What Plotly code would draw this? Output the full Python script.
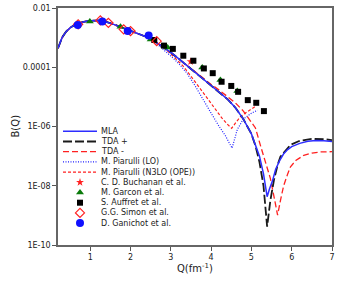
import plotly.graph_objects as go

# ---------------- data ----------------
q_mla = [0.2, 0.3, 0.4, 0.5, 0.6, 0.7, 0.8, 0.9, 1.0, 1.2, 1.4, 1.6, 1.8, 2.0, 2.2, 2.4, 2.6, 2.8,
         3.0, 3.2, 3.4, 3.6, 3.8, 4.0, 4.2, 4.4, 4.6, 4.8, 5.0, 5.1, 5.2, 5.3, 5.39, 5.45, 5.52,
         5.6, 5.7, 5.8, 5.9, 6.0, 6.2, 6.4, 6.6, 6.8, 7.0]
b_mla = [4.37e-4, 1.0e-3, 1.585e-3, 2.14e-3, 2.63e-3, 3.02e-3, 3.31e-3, 3.55e-3, 3.72e-3, 3.80e-3,
         3.39e-3, 2.75e-3, 2.19e-3, 1.66e-3, 1.32e-3, 1.05e-3, 7.41e-4, 5.01e-4, 3.16e-4, 1.91e-4,
         1.15e-4, 6.92e-5, 4.17e-5, 2.45e-5, 1.45e-5, 8.51e-6, 4.37e-6, 1.78e-6, 5.62e-7, 2.51e-7,
         1.0e-7, 2.51e-8, 4.27e-9, 7.94e-9, 1.41e-8, 3.55e-8, 7.08e-8, 1.20e-7, 1.66e-7, 2.09e-7,
         2.69e-7, 3.16e-7, 3.39e-7, 3.31e-7, 3.09e-7]

q_tda_plus = [0.2, 0.3, 0.4, 0.5, 0.6, 0.7, 0.8, 0.9, 1.0, 1.2, 1.4, 1.6, 1.8, 2.0, 2.2, 2.4, 2.6, 2.8,
              3.0, 3.2, 3.4, 3.6, 3.8, 4.0, 4.2, 4.4, 4.6, 4.8, 5.0, 5.1, 5.2, 5.3, 5.39, 5.47, 5.56,
              5.65, 5.72, 5.85, 5.97, 6.2, 6.5, 6.8, 7.0]
b_tda_plus = [4.37e-4, 1.0e-3, 1.585e-3, 2.14e-3, 2.63e-3, 3.02e-3, 3.31e-3, 3.55e-3, 3.72e-3, 3.80e-3,
              3.39e-3, 2.75e-3, 2.19e-3, 1.66e-3, 1.32e-3, 1.05e-3, 7.41e-4, 5.01e-4, 3.16e-4, 1.91e-4,
              1.15e-4, 6.92e-5, 4.17e-5, 2.45e-5, 1.45e-5, 8.51e-6, 4.37e-6, 1.78e-6, 5.62e-7, 2.24e-7,
              6.31e-8, 1.0e-8, 4.17e-10, 3.16e-9, 1.58e-8, 5.01e-8, 9.55e-8, 1.58e-7, 2.40e-7,
              3.31e-7, 3.80e-7, 3.72e-7, 3.47e-7]

q_tda_minus = [0.2, 0.3, 0.4, 0.5, 0.6, 0.7, 0.8, 0.9, 1.0, 1.2, 1.4, 1.6, 1.8, 2.0, 2.2, 2.4, 2.6, 2.8,
               3.0, 3.2, 3.4, 3.6, 3.8, 4.0, 4.2, 4.4, 4.6, 4.8, 5.0, 5.1, 5.22, 5.35, 5.47, 5.58,
               5.65, 5.72, 5.8, 5.9, 5.97, 6.1, 6.3, 6.5, 6.7, 7.0]
b_tda_minus = [4.37e-4, 1.0e-3, 1.585e-3, 2.14e-3, 2.63e-3, 3.02e-3, 3.31e-3, 3.55e-3, 3.72e-3, 3.80e-3,
               3.39e-3, 2.75e-3, 2.19e-3, 1.66e-3, 1.32e-3, 1.05e-3, 7.41e-4, 5.01e-4, 3.16e-4, 1.91e-4,
               1.15e-4, 6.92e-5, 4.17e-5, 2.63e-5, 1.70e-5, 1.07e-5, 6.31e-6, 3.31e-6, 1.41e-6, 8.91e-7,
               2.40e-7, 6.31e-8, 1.78e-8, 3.16e-9, 1.02e-9, 3.16e-9, 1.0e-8, 2.51e-8, 4.37e-8,
               7.08e-8, 1.07e-7, 1.26e-7, 1.38e-7, 1.41e-7]

q_lo = [0.2, 0.3, 0.4, 0.5, 0.6, 0.7, 0.8, 0.9, 1.0, 1.2, 1.4, 1.6, 1.8, 2.0, 2.2, 2.4, 2.6, 2.8,
        3.0, 3.2, 3.4, 3.6, 3.8, 4.0, 4.2, 4.35, 4.52, 4.65, 4.8, 5.0, 5.15]
b_lo = [4.37e-4, 1.0e-3, 1.585e-3, 2.14e-3, 2.63e-3, 3.02e-3, 3.31e-3, 3.55e-3, 3.72e-3, 3.80e-3,
        3.39e-3, 2.75e-3, 2.19e-3, 1.66e-3, 1.32e-3, 1.05e-3, 7.08e-4, 4.17e-4, 2.40e-4, 1.32e-4,
        6.31e-5, 2.40e-5, 7.94e-6, 2.82e-6, 1.0e-6, 5.01e-7, 1.86e-7, 7.94e-7, 1.78e-6, 2.82e-6,
        3.55e-6]

q_n3lo = [0.2, 0.3, 0.4, 0.5, 0.6, 0.7, 0.8, 0.9, 1.0, 1.2, 1.4, 1.6, 1.8, 2.0, 2.2, 2.4, 2.6, 2.8,
          3.0, 3.3, 3.57, 3.8, 3.98, 4.15, 4.27, 4.4, 4.51, 4.62, 4.73, 4.9, 5.1]
b_n3lo = [4.37e-4, 1.0e-3, 1.585e-3, 2.14e-3, 2.63e-3, 3.02e-3, 3.31e-3, 3.55e-3, 3.72e-3, 3.80e-3,
          3.39e-3, 2.75e-3, 2.19e-3, 1.66e-3, 1.32e-3, 1.05e-3, 7.41e-4, 5.01e-4, 2.82e-4, 1.12e-4,
          3.72e-5, 1.41e-5, 6.03e-6, 3.16e-6, 1.91e-6, 1.20e-6, 8.71e-7, 1.41e-6, 2.14e-6, 3.16e-6,
          4.79e-6]

q_buchanan = [3.49]
b_buchanan = [1.55e-4]

q_garcon = [0.99, 1.75, 2.5, 2.92, 3.78, 4.23, 4.65]
b_garcon = [3.47e-3, 2.34e-3, 8.71e-4, 4.68e-4, 9.77e-5, 3.72e-5, 1.58e-5]

q_auffret = [2.59, 2.83, 3.05, 3.31, 3.56, 3.82, 4.04, 4.26, 4.5, 4.67, 4.91, 5.12, 5.31]
b_auffret = [8.32e-4, 5.37e-4, 4.17e-4, 2.45e-4, 1.66e-4, 9.12e-5, 6.31e-5, 3.24e-5, 2.34e-5,
             1.48e-5, 7.76e-6, 6.31e-6, 3.31e-6]

q_simon = [0.7, 1.25, 1.45, 1.83, 2.0, 2.65]
b_simon = [2.82e-3, 3.80e-3, 3.16e-3, 1.91e-3, 1.66e-3, 7.59e-4]

q_ganichot = [0.69, 1.30, 1.93, 2.45]
b_ganichot = [2.69e-3, 3.47e-3, 1.66e-3, 1.17e-3]

x_ticks = [1, 2, 3, 4, 5, 6, 7]
y_ticks = [1e-10, 1e-8, 1e-6, 1e-4, 1e-2]
y_tick_labels = ["1E-10", "1E-08", "1E-06", "0.0001", "0.01"]

x_title = "Q(fm<sup>-1</sup>)"
y_title = "B(Q)"

legend_labels = ["MLA", "TDA +", "TDA -", "M. Piarulli (LO)", "M. Piarulli (N3LO (OPE))",
                 "C. D. Buchanan et al.", "M. Garcon et al.", "S. Auffret et al.",
                 "G.G. Simon et al.", "D. Ganichot et al."]

# ---------------- styles ----------------
FONT = "DejaVu Sans"
line_styles = [
    dict(color="#2d2dff", width=1.5, dash="solid"),
    dict(color="#1a1a1a", width=1.8, dash="9px,3px"),
    dict(color="#ff2020", width=1.3, dash="6px,3px"),
    dict(color="#2020ff", width=1.2, dash="1px,1.5px"),
    dict(color="#ff2020", width=1.2, dash="3px,2px"),
]
marker_styles = [
    dict(symbol="star", color="#ff2020", size=6),
    dict(symbol="triangle-up", color="#0a7a0a", size=7),
    dict(symbol="square", color="#000000", size=6),
    dict(symbol="diamond-open", color="#ff2020", size=7, line=dict(width=1.2, color="#ff2020")),
    dict(symbol="circle", color="#1010ff", size=8),
]

fig = go.Figure()

curves = [(q_mla, b_mla), (q_tda_plus, b_tda_plus), (q_tda_minus, b_tda_minus),
          (q_lo, b_lo), (q_n3lo, b_n3lo)]
order = [3, 4, 2, 1, 0]
for i in order:
    qx, by = curves[i]
    fig.add_trace(go.Scatter(x=qx, y=by, mode="lines", line=line_styles[i],
                             name=legend_labels[i], showlegend=False))

points = [(q_buchanan, b_buchanan), (q_garcon, b_garcon), (q_auffret, b_auffret),
          (q_simon, b_simon), (q_ganichot, b_ganichot)]
for j, (qx, by) in enumerate(points):
    fig.add_trace(go.Scatter(x=qx, y=by, mode="markers", marker=marker_styles[j],
                             name=legend_labels[5 + j], showlegend=False))

# ---------------- custom compact legend inside the plot ----------------
L, R, T, B = 58.0, 332.0, 8.0, 245.0
def px_x(p):
    return (p - L) / (R - L)
def px_y(p):
    return (B - p) / (B - T)

row_y = [131.3 + 10.2 * k for k in range(10)]
shapes = []
annotations = []
for k in range(10):
    yk = px_y(row_y[k])
    if k < 5:
        ls = line_styles[k]
        shapes.append(dict(type="line", xref="paper", yref="paper",
                           x0=px_x(63), x1=px_x(97), y0=yk, y1=yk,
                           line=dict(color=ls["color"], width=ls["width"], dash=ls["dash"])))
    annotations.append(dict(text=legend_labels[k], xref="paper", yref="paper",
                            x=px_x(99), y=yk, xanchor="left", yanchor="middle",
                            showarrow=False, font=dict(family=FONT, size=8, color="#222")))

# axis titles placed as annotations
annotations.append(dict(text=x_title, xref="paper", yref="paper", x=px_x(195), y=px_y(268),
                        xanchor="center", yanchor="middle", showarrow=False,
                        font=dict(family=FONT, size=10, color="#222")))
annotations.append(dict(text=y_title, xref="paper", yref="paper", x=px_x(15), y=px_y(126.5),
                        xanchor="center", yanchor="middle", showarrow=False, textangle=-90,
                        font=dict(family=FONT, size=10, color="#222")))

for j in range(5):
    fig.add_trace(go.Scatter(x=[px_x(80)], y=[px_y(row_y[5 + j])], mode="markers",
                             marker=marker_styles[j], xaxis="x2", yaxis="y2", showlegend=False,
                             hoverinfo="skip"))

fig.update_layout(
    width=338, height=282,
    margin=dict(l=58, r=6, t=8, b=37),
    paper_bgcolor="white", plot_bgcolor="white",
    font=dict(family=FONT, size=8, color="#222"),
    showlegend=False,
    shapes=shapes,
    annotations=annotations,
    xaxis=dict(range=[0.2, 7], tickvals=x_ticks, ticks="outside", ticklen=4, tickcolor="#555",
               showgrid=False, zeroline=False, showline=True, linecolor="#666", linewidth=1.5,
               mirror=True, automargin=False, tickfont=dict(size=8, color="#222")),
    yaxis=dict(type="log", range=[-10, -2], tickvals=y_ticks, ticktext=y_tick_labels,
               ticks="outside", ticklen=4, tickcolor="#555", showgrid=False, zeroline=False,
               showline=True, linecolor="#666", linewidth=1.5, mirror=True, automargin=False,
               tickfont=dict(size=8, color="#222")),
    xaxis2=dict(overlaying="x", range=[0, 1], visible=False, automargin=False),
    yaxis2=dict(overlaying="y", range=[0, 1], visible=False, automargin=False),
)

fig.write_html("out.html", config={"displayModeBar": False},
               post_script="document.body.style.margin='0';")
